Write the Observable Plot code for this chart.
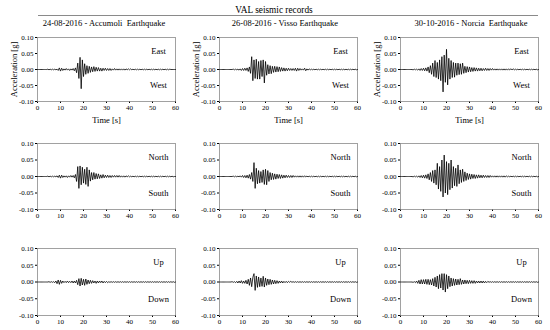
<!DOCTYPE html>
<html><head><meta charset="utf-8">
<script src="https://cdn.jsdelivr.net/npm/d3@7"></script>
<script src="https://cdn.jsdelivr.net/npm/@observablehq/plot@0.6"></script>
<style>
body{margin:0;background:#fff;font-family:"Liberation Serif",serif;}
#chart{position:relative;width:550px;height:330px;overflow:hidden;background:#fff}
.t{position:absolute;white-space:pre;text-align:center;color:#000;line-height:12px}
.p{position:absolute}
</style></head><body><div id="chart"></div>
<script>
const title = "VAL seismic records";
const events = ["24-08-2016 - Accumoli  Earthquake", "26-08-2016 - Visso Earthquake", "30-10-2016 - Norcia  Earthquake"];
const components = [["East", "West"], ["North", "South"], ["Up", "Down"]];
const xLabel = "Time [s]";
const yLabel = "Acceleration [g]";
const xTicks = [0, 10, 20, 30, 40, 50, 60];
const yTicks = [-0.1, -0.05, 0, 0.05, 0.1];
const dt = 0.5; // s, sample spacing of the arrays below (values in milli-g)

const accumoliEW = [
0,0,0,0,0,0,0,0,0,1,
-1,1,-1,1,-1,1,-1,1,-3,5,
-5,4,-3,2,-2,3,-2,2,-3,2,
-2,3,-4,5,-10,20,-28,38,-60,30,
-22,18,-15,12,-12,10,-9,8,-7,9,
-6,7,-5,6,-5,4,-5,4,-3,4,
-3,3,-3,3,-3,2,-2,3,-2,2,
-2,2,-2,2,-2,2,-2,2,-1,2,
-1,2,-1,1,-1,1,-1,1,-1,1,
-1,1,-1,1,-1,1,-1,1,-1,1,
-1,1,-1,1,-1,1,-1,1,-1,1,
-1,1,-1,1,-1,1,0,0,0,0,
0];
const accumoliNS = [
0,0,0,0,0,0,0,0,0,1,
-1,1,-1,1,-1,1,-1,2,-3,4,
-5,4,-3,2,-2,2,-3,2,-2,3,
-2,3,-4,6,-15,30,-36,32,-25,28,
-20,22,-24,28,-30,20,-14,12,-10,12,
-8,9,-7,8,-6,5,-5,6,-4,4,
-3,4,-3,3,-3,3,-2,3,-2,3,
-2,3,-2,2,-2,2,-2,2,-1,2,
-1,1,-1,1,-1,1,-1,1,-1,1,
-1,1,-1,1,-1,1,-1,1,-1,1,
-1,1,-1,1,-1,1,-1,1,-1,1,
-1,1,-1,1,-1,1,-1,1,-1,0,
0];
const accumoliUD = [
0,0,0,0,0,0,0,0,0,0,
1,-1,1,-1,1,-2,3,-5,6,-7,
5,-4,3,-2,2,-2,3,-2,2,-2,
3,-3,3,-3,5,-8,10,-12,11,-9,
8,-10,9,-7,6,-5,5,-4,4,-3,
3,-4,3,-3,3,-2,3,-3,2,-2,
2,-2,1,-1,1,-1,1,-1,1,-1,
1,-1,1,-1,1,-1,1,-1,1,-1,
1,-1,1,-1,1,-1,1,-1,1,-1,
1,-1,1,-1,1,-1,1,-1,1,-1,
1,-1,1,-1,1,-1,1,-1,1,-1,
1,-1,1,-1,1,-1,1,-1,1,-1,
0];
const vissoEW = [
0,0,0,0,0,0,0,0,0,0,
0,0,1,-1,1,-1,1,-2,2,-3,
3,-3,4,-3,5,-6,8,-12,40,-35,
30,-28,32,-30,25,-30,28,-22,30,-42,
25,-18,15,-14,12,-13,10,-9,10,-8,
9,-7,8,-6,6,-5,5,-5,4,-4,
4,-3,3,-3,3,-3,4,-5,4,-3,
3,-2,2,-2,4,-4,2,-2,2,-1,
1,-1,1,-1,1,-1,1,-1,1,-1,
1,-1,1,-1,1,-1,1,-1,1,-1,
1,-1,1,-1,1,-1,1,-1,1,-1,
1,-1,1,-1,1,-1,1,-1,1,-1,
0];
const vissoNS = [
0,0,0,0,0,0,0,0,0,0,
0,0,1,-1,1,-1,1,-1,2,-2,
3,-3,3,-4,4,-5,6,-8,12,-15,
42,-36,25,-22,18,-20,15,-18,20,-24,
22,-25,18,-15,12,-10,10,-9,8,-8,
7,-6,6,-6,5,-5,4,-4,4,-3,
3,-3,3,-3,3,-2,2,-2,2,-2,
2,-2,2,-2,2,-1,1,-1,1,-1,
1,-1,1,-1,1,-1,1,-1,1,-1,
1,-1,1,-1,1,-1,1,-1,1,-1,
1,-1,1,-1,1,-1,1,-1,1,-1,
1,-1,1,-1,1,-1,1,-1,1,-1,
0];
const vissoUD = [
0,0,0,0,0,0,0,0,0,0,
0,1,-1,1,-2,2,-3,3,-3,4,
-4,3,-4,5,-6,8,-10,12,-14,14,
25,-25,18,-16,15,-14,12,-13,17,-15,
12,-10,9,-8,8,-7,6,-6,5,-5,
4,-4,3,-3,3,-3,2,-2,2,-2,
2,-1,2,-1,1,-1,1,-1,1,-1,
1,-1,1,-1,1,-1,1,-1,1,-1,
1,-1,1,-1,1,-1,1,-1,1,-1,
1,-1,1,-1,1,-1,1,-1,1,-1,
1,-1,1,-1,1,-1,1,-1,1,-1,
1,-1,1,-1,1,-1,1,-1,1,-1,
0];
const norciaEW = [
0,0,0,0,0,0,0,0,0,0,
0,-1,1,-1,1,-2,2,-3,3,-3,
4,-4,5,-5,8,-10,12,-15,20,-22,
28,-25,22,-30,30,-35,40,-70,45,-40,
63,-48,35,-30,28,-25,22,-24,20,-18,
20,-16,18,-15,20,-12,10,-10,9,-8,
8,-7,6,-6,6,-5,5,-5,4,-4,
4,-4,3,-3,4,-3,3,-3,3,-2,
3,-2,2,-2,2,-2,2,-2,2,-2,
2,-2,2,-2,2,-1,2,-1,2,-1,
1,-1,1,-1,1,-1,1,-1,1,-1,
1,-1,1,-1,1,-1,1,-1,1,-1,
0];
const norciaNS = [
0,0,0,0,0,0,0,0,0,0,
0,-1,1,-1,1,-2,2,-3,3,-4,
4,-5,5,-6,8,-10,12,-15,18,-20,
20,-25,40,-38,30,-45,50,-62,65,-50,
45,-55,40,-40,50,-35,30,-28,25,-30,
35,-22,20,-18,22,-15,14,-12,10,-9,
8,-8,7,-6,6,-6,5,-5,5,-4,
4,-4,4,-3,3,-3,3,-3,3,-2,
2,-2,2,-2,2,-2,2,-2,2,-2,
2,-2,2,-1,1,-1,1,-1,1,-1,
1,-1,1,-1,1,-1,1,-1,1,-1,
1,-1,1,-1,1,-1,1,-1,1,-1,
0];
const norciaUD = [
0,0,0,0,0,0,0,0,0,0,
0,-1,1,-2,3,-4,5,-6,7,-6,
7,-6,8,-7,8,-8,7,-9,10,-12,
14,-15,18,-20,22,-18,25,-24,25,-30,
22,-20,18,-14,12,-12,10,-10,9,-9,
8,-8,10,-7,6,-6,6,-5,5,-5,
5,-4,4,-4,4,-4,3,-3,3,-3,
3,-3,3,-3,2,-2,2,-1,1,-1,
1,-1,1,-1,1,-1,1,-1,1,-1,
1,-1,1,-1,1,-1,1,-1,1,-1,
1,-1,1,-1,1,-1,1,-1,1,-1,
1,-1,1,-1,1,-1,1,-1,1,-1,
0];

const records = [
  [accumoliEW, vissoEW, norciaEW],
  [accumoliNS, vissoNS, norciaNS],
  [accumoliUD, vissoUD, norciaUD]
];

// layout (pixels)
const colLeft = [37, 219, 400];
const rowTop = [37, 143, 248];
const rowH = [64, 66, 67];
const frameW = 138;
const mL = 36, mR = 8, mT = 6;

const chart = document.getElementById("chart");
function addText(txt, cx, cy, size, w) {
  const d = document.createElement("div");
  d.className = "t";
  d.textContent = txt;
  d.style.left = (cx - w / 2) + "px";
  d.style.width = w + "px";
  d.style.top = (cy - 6) + "px";
  d.style.fontSize = size + "px";
  chart.appendChild(d);
}
addText(title, 274, 10, 9.3, 200);
const rule = document.createElement("div");
rule.style.cssText = "position:absolute;left:38px;top:15px;width:500px;height:0;border-top:1px solid #8a8a8a";
chart.appendChild(rule);
const headCx = [104, 285, 471];
events.forEach((e, i) => addText(e, headCx[i], 23, 8.5, 180));

const time = d3.range(0, 60 + dt / 2, dt);

for (let r = 0; r < 3; r++) {
  for (let c = 0; c < 3; c++) {
    const series = records[r][c].map((v, i) => ({t: time[i], a: v / 1000}));
    const mB = r === 0 ? 26 : 14;
    const marks = [
      Plot.frame({stroke: "#8a8a8a", strokeWidth: 0.8}),
      Plot.line(series, {x: "t", y: "a", stroke: "#000", strokeWidth: 0.8}),
      Plot.text([components[r][0]], {text: d => d, frameAnchor: "top-right", dx: -17, dy: 14, textAnchor: "middle", lineAnchor: "middle", fontSize: 8.5}),
      Plot.text([components[r][1]], {text: d => d, frameAnchor: "bottom-right", dx: -17, dy: -16, textAnchor: "middle", lineAnchor: "middle", fontSize: 8.5})
    ];
    if (r === 0) {
      marks.push(Plot.text([xLabel], {text: d => d, frameAnchor: "bottom", dy: 19, textAnchor: "middle", lineAnchor: "middle", fontSize: 8.5}));
      marks.push(Plot.text([yLabel], {text: d => d, frameAnchor: "left", dx: -23, rotate: -90, textAnchor: "middle", lineAnchor: "middle", fontSize: 8.5}));
    }
    const svg = Plot.plot({
      width: mL + frameW + mR,
      height: mT + rowH[r] + mB,
      marginLeft: mL, marginRight: mR, marginTop: mT, marginBottom: mB,
      style: {background: "transparent", fontFamily: "Liberation Serif", fontSize: "7px", color: "#000", overflow: "visible"},
      x: {domain: [0, 60], ticks: xTicks, tickSize: 2, tickPadding: 2, tickFormat: d => String(d), label: null},
      y: {domain: [-0.1, 0.1], ticks: yTicks, tickSize: 2, tickPadding: 2, tickFormat: d => d.toFixed(2), label: null},
      marks
    });
    const holder = document.createElement("div");
    holder.className = "p";
    holder.style.left = (colLeft[c] - mL) + "px";
    holder.style.top = (rowTop[r] - mT) + "px";
    holder.appendChild(svg);
    chart.appendChild(holder);
  }
}
</script></body></html>
